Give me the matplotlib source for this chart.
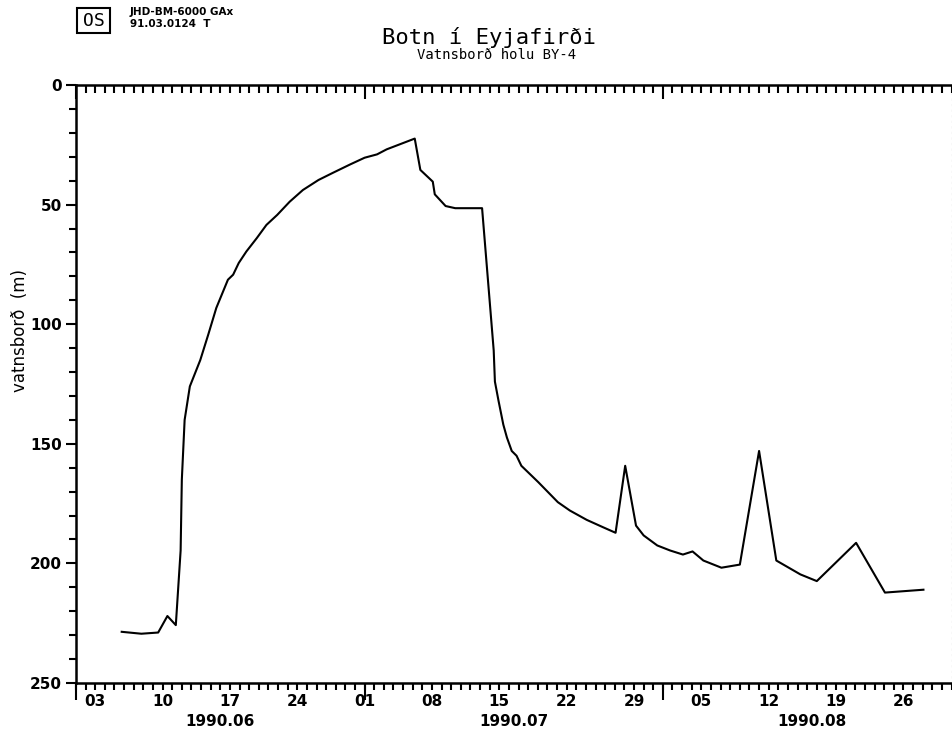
import matplotlib
matplotlib.use("Agg")
import matplotlib.pyplot as plt
import matplotlib.dates as mdates
import matplotlib.ticker as mticker
import matplotlib.transforms as mtransforms
from matplotlib.patches import Rectangle
import pandas as pd

# water level readings, hole BY-4
times = ["06-05 18", "06-07 19", "06-09 13", "06-10 12", "06-11 09", "06-11 21",
         "06-12 00", "06-12 07", "06-12 20", "06-13 22", "06-14 18", "06-15 14",
         "06-16 19", "06-17 08", "06-17 22", "06-18 17", "06-19 19", "06-20 19",
         "06-21 22", "06-23 05", "06-24 14", "06-26 05", "06-27 17", "06-29 12",
         "07-01 00", "07-02 07", "07-03 07", "07-06 05", "07-06 19", "07-08 02",
         "07-08 07", "07-09 10", "07-10 10", "07-13 05", "07-14 10", "07-14 13",
         "07-14 22", "07-15 10", "07-15 19", "07-16 07", "07-16 19", "07-17 07",
         "07-17 20", "07-19 01", "07-19 22", "07-21 02", "07-22 08", "07-24 02",
         "07-25 19", "07-27 02", "07-28 02", "07-29 05", "07-30 00", "07-31 10",
         "08-01 18", "08-03 02", "08-04 02", "08-05 05", "08-07 02", "08-09 00",
         "08-11 00", "08-12 19", "08-15 07", "08-17 00", "08-21 02", "08-24 02",
         "08-28 02"]
level = [228.6, 229.4, 228.9, 222.0, 225.8, 194.6,
         165.0, 140.0, 126.0, 115.0, 104.3, 93.2,
         81.4, 79.3, 74.4, 69.6, 64.0, 58.5,
         54.3, 48.8, 43.9, 39.7, 36.7, 33.2,
         30.4, 29.0, 26.9, 22.4, 35.5, 40.4,
         45.7, 50.6, 51.5, 51.5, 111.0, 124.0,
         132.0, 142.0, 147.4, 153.0, 155.0, 159.2,
         161.3, 166.0, 169.6, 174.4, 177.9, 181.8,
         184.9, 187.2, 159.2, 184.2, 188.3, 192.5,
         194.6, 196.3, 195.0, 198.8, 201.8, 200.5,
         153.0, 198.8, 204.6, 207.4, 191.4, 212.2,
         211.0]

months = ["1990.06", "1990.07", "1990.08"]
month_mid = ["1990-06-16 00", "1990-07-16 12", "1990-08-16 12"]

dates = pd.to_datetime(["1990-" + t for t in times], format="%Y-%m-%d %H")
mids = pd.to_datetime(month_mid, format="%Y-%m-%d %H")

plt.rcParams["font.weight"] = "bold"

fig = plt.figure(figsize=(9.52, 7.35), dpi=100)
W, H = 952.0, 735.0
ax = fig.add_axes([76 / W, 1 - 683 / H, (951.5 - 76) / W, (683 - 85) / H])

ax.plot(dates, level, color="black", lw=1.5)

ax.set_xlim(pd.Timestamp("1990-06-01"), pd.Timestamp("1990-08-31"))
ax.set_ylim(250, 0)

# x axis: daily minor ticks, long month ticks, weekly day labels
ax.xaxis.set_major_locator(mdates.MonthLocator())
ax.xaxis.set_major_formatter(mticker.NullFormatter())
ax.xaxis.set_minor_locator(mdates.DayLocator())


def day_label(x, pos):
    d = mdates.num2date(x)
    return d.strftime("%d") if d.weekday() == 6 else ""


ax.xaxis.set_minor_formatter(mticker.FuncFormatter(day_label))
ax.xaxis.remove_overlapping_locs = False
ax.tick_params(axis="x", which="minor", direction="out", length=5, width=1.5,
               pad=3, labelsize=11)
ax.tick_params(axis="x", which="major", direction="out", length=12, width=1.5)

# y axis
ax.yaxis.set_major_locator(mticker.MultipleLocator(50))
ax.yaxis.set_minor_locator(mticker.MultipleLocator(10))
ax.tick_params(axis="y", which="major", direction="out", length=7, width=1.5,
               pad=3, labelsize=11)
ax.tick_params(axis="y", which="minor", direction="out", length=5, width=1.5)

for side in ["left", "bottom", "top"]:
    ax.spines[side].set_linewidth(1.8)
ax.spines["right"].set_linestyle((0, (1, 4)))
ax.spines["right"].set_color("#888888")
ax.spines["right"].set_linewidth(0.8)

# top ticks point into the plot
top = ax.twiny()
top.set_xlim(ax.get_xlim())
top.xaxis.set_major_locator(mdates.MonthLocator())
top.xaxis.set_minor_locator(mdates.DayLocator())
top.xaxis.set_major_formatter(mticker.NullFormatter())
top.xaxis.set_minor_formatter(mticker.NullFormatter())
top.tick_params(axis="x", which="minor", direction="in", length=6, width=1.5)
top.tick_params(axis="x", which="major", direction="in", length=10, width=1.5)
top.tick_params(axis="y", which="major", right=True, left=False, labelleft=False,
                labelright=False, direction="in", length=4, width=2)
top.tick_params(axis="y", which="minor", right=False, left=False)
for s in top.spines.values():
    s.set_visible(False)

# month labels under the day labels
trans = mtransforms.blended_transform_factory(ax.transData, ax.transAxes)
for m, x in zip(months, mids):
    ax.text(x, -0.064, m, transform=trans, ha="center", va="center",
            fontsize=11, fontweight="bold")

fig.text(20 / W, 1 - 330 / H, "vatnsborð  (m)", rotation=90, ha="center",
         va="center", fontsize=12, fontweight="normal")

fig.text(489 / W, 1 - 37 / H, "Botn í Eyjafirði", ha="center", va="center",
         fontsize=16, family="DejaVu Sans Mono", fontweight="normal")
fig.text(497 / W, 1 - 55 / H, "Vatnsborð holu BY-4", ha="center", va="center",
         fontsize=10, family="DejaVu Sans Mono", fontweight="normal")

# stamp in the top left corner
fig.patches.append(Rectangle((77 / W, 1 - 33 / H), 33 / W, 25 / H,
                             transform=fig.transFigure, fill=False,
                             lw=1.5, ec="black"))
fig.text(93.5 / W, 1 - 20.5 / H, "OS", ha="center", va="center", fontsize=13,
         family="DejaVu Sans Mono", fontweight="normal")
fig.text(130 / W, 1 - 12 / H, "JHD-BM-6000 GAx", ha="left", va="center",
         fontsize=7.5, fontweight="bold")
fig.text(130 / W, 1 - 24 / H, "91.03.0124  T", ha="left", va="center",
         fontsize=7.5, fontweight="bold")

fig.savefig("out.png", dpi=100)
